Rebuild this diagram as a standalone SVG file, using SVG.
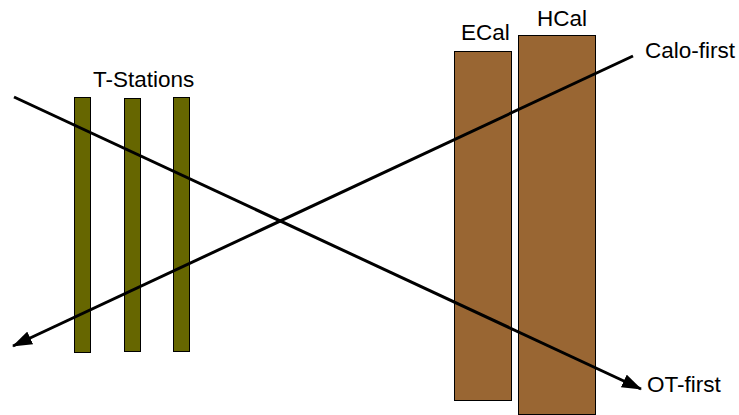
<svg xmlns="http://www.w3.org/2000/svg" width="739" height="415" viewBox="0 0 739 415">
<style>
.t{fill:#666600;stroke:#000;stroke-width:1}
.c{fill:#996633;stroke:#000;stroke-width:1}
.lbl{font-family:"Liberation Sans",Arial,sans-serif;font-size:22.5px;fill:#000}
.ln{stroke:#000;stroke-width:3;fill:none}
</style>
<defs>
<marker id="ah" viewBox="0 0 20 14" refX="19" refY="7" markerWidth="20" markerHeight="14" markerUnits="userSpaceOnUse" orient="auto">
<path d="M0,0 L20,7 L0,14 Z" fill="#000"/>
</marker>
</defs>
<g id="tstations">
<rect id="t1" class="t" x="74.5" y="97.5" width="16" height="255"/>
<rect id="t2" class="t" x="124.5" y="98.5" width="16" height="253"/>
<rect id="t3" class="t" x="173.5" y="97.5" width="16" height="254"/>
<text class="lbl" x="93" y="87">T-Stations</text>
</g>
<g id="ecal">
<rect class="c" x="454.5" y="51.5" width="57" height="349"/>
<text class="lbl" x="461" y="40">ECal</text>
</g>
<g id="hcal">
<rect class="c" x="518.5" y="35.5" width="77" height="379"/>
<text class="lbl" x="537" y="26">HCal</text>
</g>
<g id="connectors">
<line class="ln" x1="14" y1="97" x2="641" y2="389" marker-end="url(#ah)"/>
<line class="ln" x1="633" y1="56" x2="13" y2="346" marker-end="url(#ah)"/>
</g>
<text class="lbl" x="645" y="58">Calo-first</text>
<text class="lbl" x="647" y="392">OT-first</text>
</svg>
